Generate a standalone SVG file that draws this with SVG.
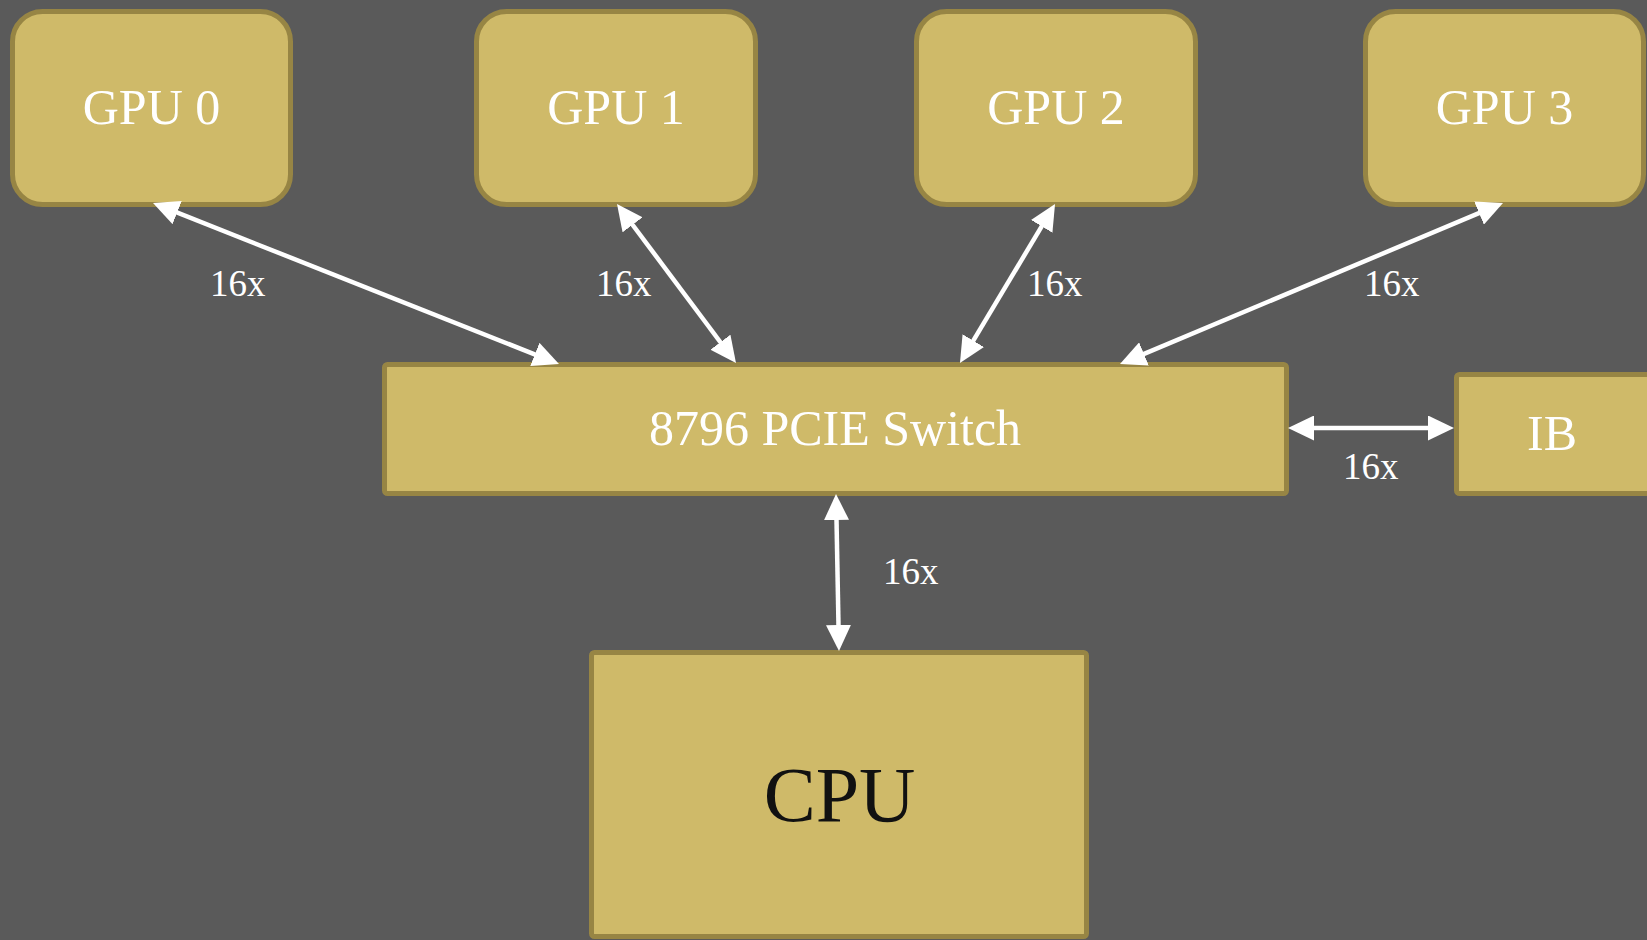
<svg xmlns="http://www.w3.org/2000/svg" width="1647" height="940" viewBox="0 0 1647 940">
  <defs>
    <marker id="ah" markerUnits="userSpaceOnUse" markerWidth="26" markerHeight="25" refX="16" refY="12.5" orient="auto-start-reverse" viewBox="0 0 26 25">
      <path d="M0,0 L26,12.5 L0,25 z" fill="#ffffff"/>
    </marker>
    <style>
      .box { fill: #cfba69; stroke: #978544; stroke-width: 5; }
      .t { font-family: "Liberation Serif", "Times New Roman", serif; fill: #ffffff; text-anchor: middle; }
      .big { font-size: 50px; }
      .lbl { font-family: "Liberation Serif", "Times New Roman", serif; fill: #ffffff; font-size: 37px; }
      .cn { stroke: #ffffff; stroke-width: 4.5; fill: none; marker-start: url(#ah); marker-end: url(#ah); }
    </style>
  </defs>
  <rect x="0" y="0" width="1647" height="940" fill="#5a5a5a"/>

  <g id="gpu0">
    <rect class="box" x="12.5" y="11.5" width="278" height="193" rx="30"/>
    <text class="t big" x="151.5" y="124">GPU 0</text>
  </g>
  <g id="gpu1">
    <rect class="box" x="476.5" y="11.5" width="279" height="193" rx="30"/>
    <text class="t big" x="616" y="124">GPU 1</text>
  </g>
  <g id="gpu2">
    <rect class="box" x="916.5" y="11.5" width="279" height="193" rx="30"/>
    <text class="t big" x="1056" y="124">GPU 2</text>
  </g>
  <g id="gpu3">
    <rect class="box" x="1365.5" y="11.5" width="278" height="193" rx="30"/>
    <text class="t big" x="1504.5" y="124">GPU 3</text>
  </g>
  <g id="switch">
    <rect class="box" x="384.5" y="364.5" width="902" height="129" rx="3"/>
    <text class="t big" x="835" y="445">8796 PCIE Switch</text>
  </g>
  <g id="ib">
    <rect class="box" x="1456.5" y="374.5" width="200" height="119" rx="3"/>
    <text class="t big" x="1552" y="450">IB</text>
  </g>
  <g id="cpu">
    <rect class="box" x="591.5" y="652.5" width="495" height="284" rx="3"/>
    <text class="t" x="839.5" y="821" font-size="78" fill="#111111" style="fill:#111111">CPU</text>
  </g>

  <g id="connectors">
    <line class="cn" x1="162.3" y1="206.7" x2="549.7" y2="360.3"/>
    <line class="cn" x1="623" y1="212" x2="730" y2="355"/>
    <line class="cn" x1="1049.9" y1="212.6" x2="965.1" y2="354.4"/>
    <line class="cn" x1="1493.8" y1="206.9" x2="1129.2" y2="360.1"/>
    <line class="cn" x1="1298" y1="428" x2="1444" y2="428"/>
    <line class="cn" x1="836.2" y1="504" x2="838.8" y2="641"/>
    <text class="lbl" x="210" y="296">16x</text>
    <text class="lbl" x="596" y="296">16x</text>
    <text class="lbl" x="1027" y="296">16x</text>
    <text class="lbl" x="1364" y="296">16x</text>
    <text class="lbl" x="1343" y="479">16x</text>
    <text class="lbl" x="883" y="584">16x</text>
  </g>
</svg>
